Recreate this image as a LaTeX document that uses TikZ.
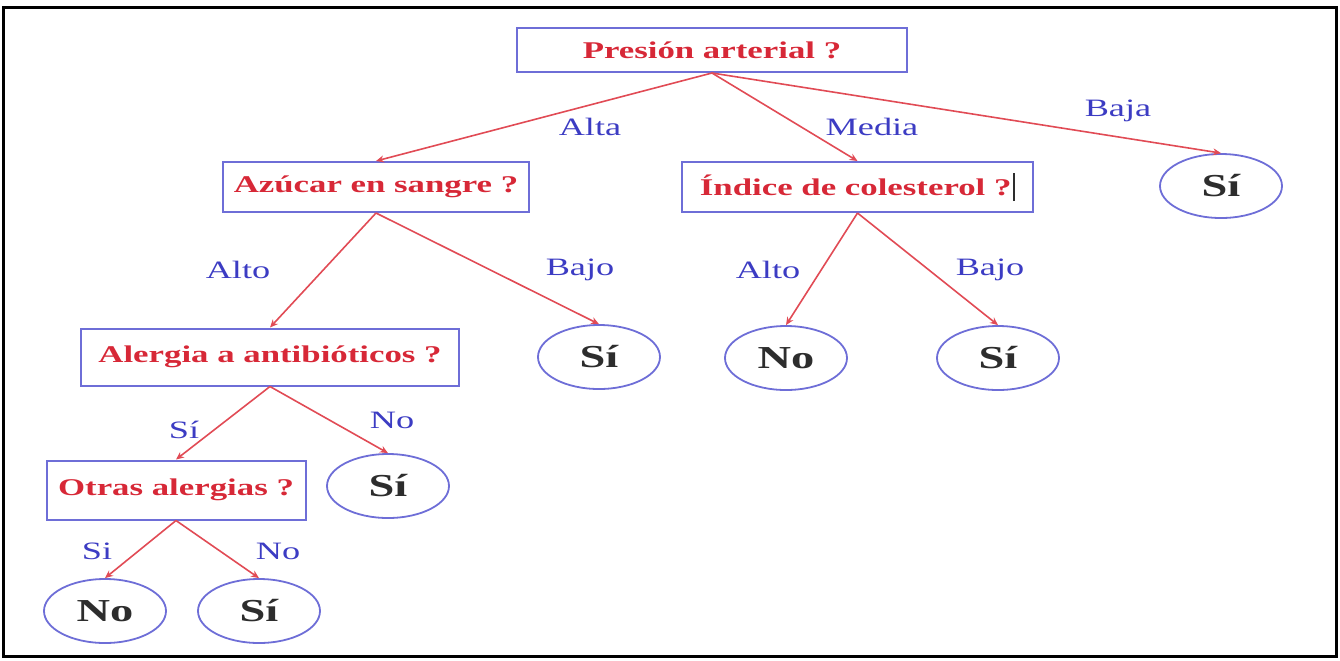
\documentclass[tikz,border=0pt]{standalone}
\usepackage{fontspec}
\setmainfont{Liberation Serif}[FakeStretch=1.45]
\usetikzlibrary{shapes.geometric,arrows.meta}

\definecolor{rojo}{RGB}{215,40,55}
\definecolor{rojoflecha}{RGB}{225,75,85}
\definecolor{cajaazul}{RGB}{110,110,215}
\definecolor{azul}{RGB}{60,60,195}
\definecolor{gris}{RGB}{45,45,45}

\begin{document}
\begin{tikzpicture}[x=.5pt, y=-.5pt,
    pregunta/.style={draw=cajaazul, line width=1pt, text=rojo, inner sep=0pt,
        font=\bfseries\fontsize{12}{14}\selectfont, minimum height=25pt},
    hoja/.style={ellipse, draw=cajaazul, line width=.9pt, text=gris, inner sep=0pt,
        font=\bfseries\fontsize{16}{18}\selectfont, minimum width=61pt, minimum height=32pt},
    rama/.style={text=azul, font=\fontsize{12.5}{14}\selectfont},
    flecha/.style={draw=rojoflecha, line width=.8pt, -{Stealth[length=4pt,width=3.5pt]}}]

    \useasboundingbox (0,0) rectangle (1340,660);
    \draw[line width=1.5pt,black] (3,7) rectangle (1336,656);

    % preguntas
    \node[pregunta, minimum width=195pt, minimum height=22pt] (presion) at (712,50) {Presión arterial ?};
    \node[pregunta, minimum width=153pt] (azucar) at (376,187) {Azúcar en sangre ?};
    \node[pregunta, minimum width=175.5pt] (indice) at (857.5,187)
        {Índice de colesterol ?\kern1pt{\color{gris}\rule[-3pt]{.8pt}{14pt}}};
    \node[pregunta, minimum width=189pt, minimum height=28.5pt] (alergia) at (270,357) {Alergia a antibióticos ?};
    \node[pregunta, minimum width=129.5pt, minimum height=29.5pt] (otras) at (176,490) {Otras alergias ?};

    % hojas
    \foreach \nombre/\x/\y/\texto in {siBaja/1221/186/Sí, siAzucar/599/357/Sí, noIndice/786/358/No,
            siIndice/998/358/Sí, siAlergia/388/486/Sí, noOtras/105/611/No, siOtras/259/611/Sí} {
        \node[hoja] (\nombre) at (\x,\y) {\texto};}

    \foreach \a/\b in {presion/azucar, presion/indice, presion/siBaja, azucar/alergia, azucar/siAzucar,
            indice/noIndice, indice/siIndice, alergia/otras, alergia/siAlergia, otras/noOtras, otras/siOtras} {
        \draw[flecha] (\a.south) -- (\b.north);}

    % etiquetas de las ramas
    \foreach \i/\x/\y/\texto in {1/590/127/Alta, 2/872/127/Media, 3/1118/111/Baja, 4/238/270/Alto,
            5/580/270/Bajo, 6/768/270/Alto, 7/990/270/Bajo, 8/184/430/Sí, 9/392/420/No,
            10/97/551/Si, 11/278/551/No} {
        \node[rama] (rama\i) at (\x,\y) {\texto};}
\end{tikzpicture}
\end{document}
